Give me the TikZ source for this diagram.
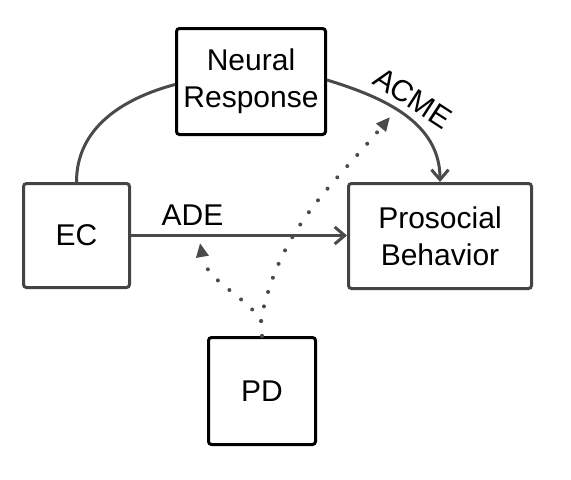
\documentclass[tikz,border=0pt]{standalone}
\usepackage{fontspec}
\setmainfont{Liberation Sans}
\usetikzlibrary{arrows.meta}
\definecolor{linegray}{HTML}{4A4A4A}
\definecolor{boxgray}{HTML}{444444}
\begin{document}
\begin{tikzpicture}[x=0.5pt, y=0.5pt,
  box/.style={draw, line width=1.5pt, rounded corners=1.5pt, align=center, inner sep=0pt, font=\fontsize{15}{18.5}\selectfont},
  link/.style={draw=linegray, line width=1.5pt},
  dots/.style={draw=linegray, line width=2pt, dash pattern=on 0pt off 7.5pt, line cap=round},
  lbl/.style={inner sep=0pt, font=\fontsize{15}{18.5}\selectfont}]

\useasboundingbox (0,0) rectangle (571,479);

% Boxes
\node[box, draw=boxgray, minimum width=53pt, minimum height=52pt] (ec) at (76.5,243.5) {EC};
\node[box, draw=black, minimum width=74.5pt, minimum height=53pt] (nr) at (251,397.5) {Neural\\Response};
\node[box, draw=boxgray, minimum width=91.5pt, minimum height=52.5pt] (pb) at (440,243) {Prosocial\\Behavior};
\node[box, draw=black, minimum width=53.5pt, minimum height=53.5pt] (pd) at (262,88) {PD};

% Paths EC -> Neural Response -> Prosocial Behavior
\draw[link] (ec.north) to[out=90, in=195] ([yshift=-1.5pt]nr.west);
\draw[link, -{Straight Barb[length=5pt,width=8.5pt]}] ([yshift=0.75pt]nr.east) to[out=-17, in=90] (pb.north);
\node[lbl, rotate=-33] (acme) at (413,381) {ACME};

% Direct path
\draw[link, -{Straight Barb[length=5pt,width=8.5pt]}] (ec.east) -- (ec.east -| pb.west)
  node[lbl, pos=0.285, above=4.5pt] (ade) {ADE};

% Moderation by PD
\coordinate (fork) at (261,160);
\coordinate (adetip) at (200,236);
\coordinate (acmetip) at (390,362);
\draw[dots, -{Triangle[length=7pt,width=6pt]}] (pd.north) -- (fork) to[out=130, in=-80] (adetip);
\draw[dots, -{Triangle[length=7pt,width=6pt]}] (pd.north) -- (fork) to[out=78, in=230] (acmetip);

\end{tikzpicture}
\end{document}
